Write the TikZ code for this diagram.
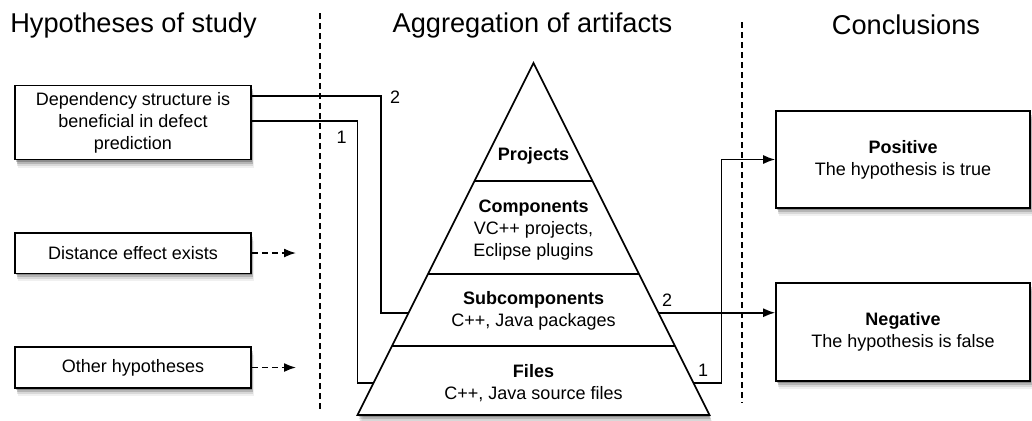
\documentclass[tikz,border=0pt]{standalone}
\usepackage{fontspec}
\setmainfont{Liberation Sans}
\usepackage{tikz}
\usetikzlibrary{shapes,arrows,arrows.meta,calc,shadows}
\tikzstyle{line} = [draw, -{Latex[length=6pt,width=4.5pt]}]
\tikzstyle{dashline} = [draw, dash pattern=on 3pt off 2pt, -{Latex[length=6pt,width=4.5pt]}]
\tikzstyle{divider} = [draw, line width=0.6pt, dash pattern=on 3pt off 2pt]
\tikzstyle{dropshade} = [general shadow={fill=black, opacity=0.22, shadow xshift=0.5pt, shadow yshift=-1pt},
                         general shadow={fill=black, opacity=0.16, shadow xshift=0.8pt, shadow yshift=-2pt},
                         general shadow={fill=black, opacity=0.10, shadow xshift=1.1pt, shadow yshift=-3pt},
                         general shadow={fill=black, opacity=0.06, shadow xshift=1.4pt, shadow yshift=-4pt}]
\tikzstyle{hypo} = [draw, rectangle, fill=white, dropshade, text centered, align=center, minimum width=118pt]
\tikzstyle{concl} = [draw, rectangle, fill=white, dropshade, text centered, align=center, minimum width=127pt, minimum height=48.5pt]
\tikzstyle{title} = [font=\fontsize{13.6}{16}\selectfont]
\tikzstyle{num} = [font=\fontsize{9}{11}\selectfont, inner sep=0pt]

\begin{document}
\begin{tikzpicture}[x=0.5pt, y=-0.5pt, line width=0.8pt, font=\fontsize{9}{11}\selectfont]
        \useasboundingbox (0,0) rectangle (1032,420);
        % column headings and separators
        \node[title] (hhead) at (133.5,25) {Hypotheses of study};
        \node[title] (ahead) at (532.5,25) {Aggregation of artifacts};
        \node[title] (chead) at (906,25) {Conclusions};
        \path[divider] (320,13) -- (320,412);
        \path[divider] (742,22) -- (742,403);

        % hypotheses
        \node[hypo, minimum height=36.5pt] (dep) at (133,122.5) {Dependency structure is\\beneficial in defect\\prediction};
        \node[hypo, minimum height=20.3pt] (dist) at (133,253) {Distance effect exists};
        \node[hypo, minimum height=20.5pt] (other) at (133,367.5) {Other hypotheses};
        \coordinate (distend) at (296,253);
        \coordinate (otherend) at (296,367.5);
        \path[dashline] (dist) -- (distend);
        \path[dashline] (other) -- (otherend);

        % pyramid of artifacts
        \coordinate (apex) at (533.5,63);
        \coordinate (bl) at (357.5,415);
        \coordinate (br) at (709.5,415);
        \draw[fill=white, dropshade] (apex) -- (bl) -- (br) -- cycle;
        \draw ($(apex)!0.335!(bl)$) -- ($(apex)!0.335!(br)$);
        \draw ($(apex)!0.5994!(bl)$) -- ($(apex)!0.5994!(br)$);
        \draw ($(apex)!0.804!(bl)$) -- ($(apex)!0.804!(br)$);
        \node (proj) at (533.5,156) {\textbf{Projects}};
        \node[align=center] (comp) at (533.5,230) {\textbf{Components}\\VC++ projects,\\Eclipse plugins};
        \node[align=center] (sub) at (533.5,311) {\textbf{Subcomponents}\\C++, Java packages};
        \node[align=center] (files) at (533.5,383) {\textbf{Files}\\C++, Java source files};
        \coordinate (subW) at ($(apex)!0.7094!(bl)$);
        \coordinate (subE) at ($(apex)!0.7094!(br)$);
        \coordinate (filesW) at ($(apex)!0.9082!(bl)$);
        \coordinate (filesE) at ($(apex)!0.9082!(br)$);

        % conclusions
        \node[concl] (pos) at (903,159.5) {\textbf{Positive}\\The hypothesis is true};
        \node[concl, minimum height=49pt] (neg) at (903,332) {\textbf{Negative}\\The hypothesis is false};

        % routes through the pyramid
        \draw ([yshift=13.4pt]dep.east) -| ($(subW)+(-27.8,0)$) -- (subW);
        \draw ([yshift=0.9pt]dep.east) -| ($(filesW)+(-16,0)$) -- (filesW);
        \path[line] (subE) -- (subE -| neg.west);
        \path[line] (filesE) -- ++(28,0) |- (pos.west);
        \node[num] (n2a) at (395,97) {2};
        \node[num] (n1a) at (341.7,137) {1};
        \node[num] (n2b) at (667,300) {2};
        \node[num] (n1b) at (703,370) {1};
    \end{tikzpicture}
\end{document}
